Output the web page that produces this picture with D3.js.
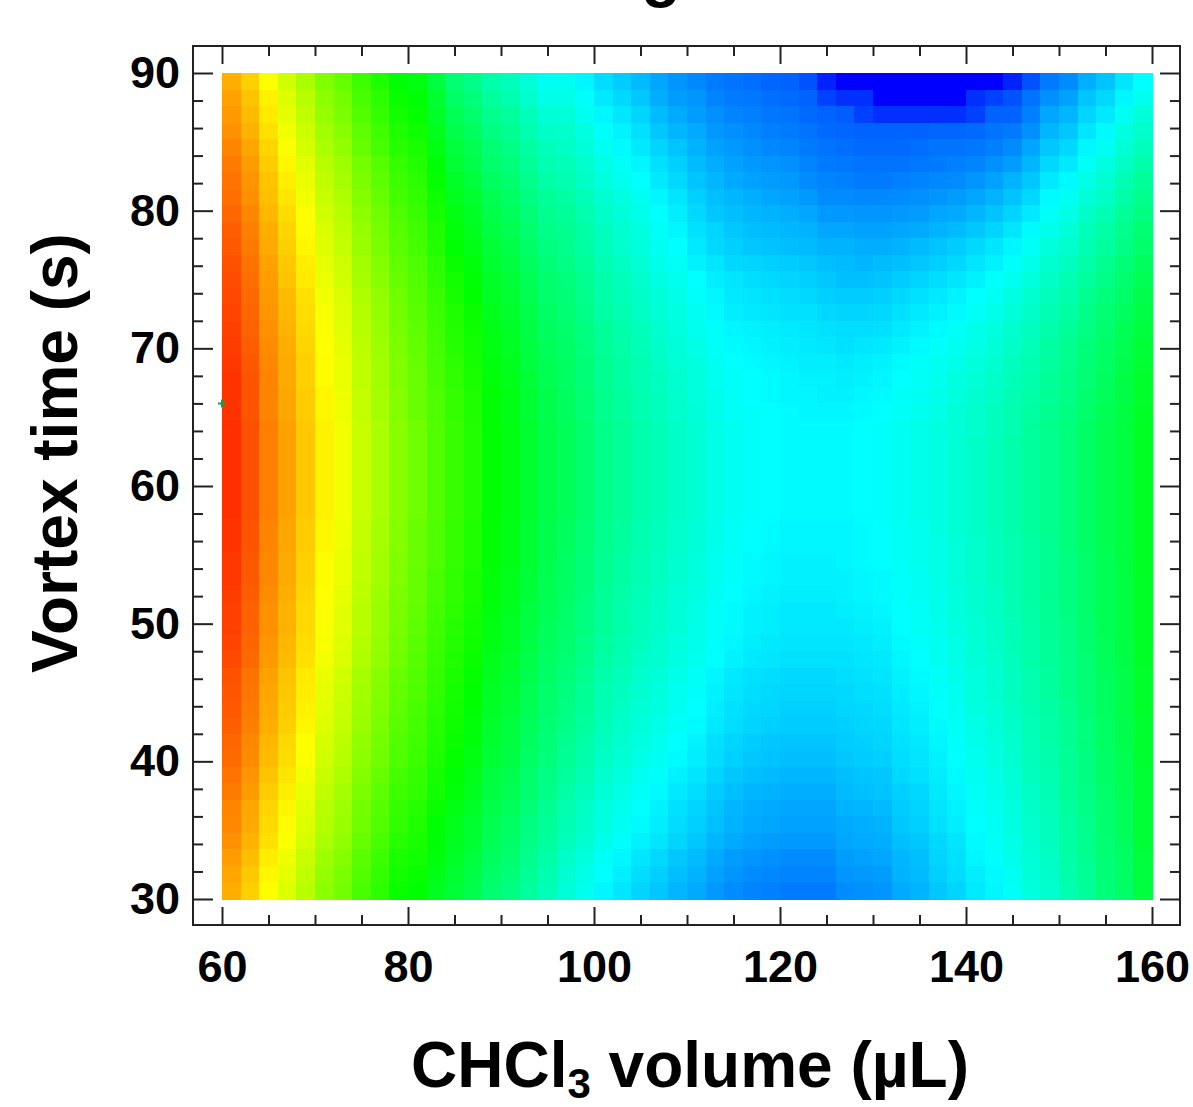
<!DOCTYPE html>
<html>
<head>
<meta charset="utf-8">
<script src="https://cdn.jsdelivr.net/npm/d3@7"></script>
<style>
  html, body { margin: 0; padding: 0; background: #fff; }
  svg { display: block; }
  text { font-family: Arial, "Liberation Sans", Helvetica, sans-serif; font-weight: bold; fill: #000; }
</style>
</head>
<body>
<svg id="chart" width="1193" height="1107"></svg>
<script>
// CHCl3 volume (µL) at the centre of each grid column
const volumes = [61, 63, 65, 67, 69, 71, 73, 75, 77, 79, 81, 83, 85, 87, 89, 91, 93, 95, 97, 99,
  101, 103, 105, 107, 109, 111, 113, 115, 117, 119, 121, 123, 125, 127, 129, 131, 133, 135, 137, 139,
  141, 143, 145, 147, 149, 151, 153, 155, 157, 159];

// Vortex time (s) at the centre of each grid row, top to bottom
const times = [89.4, 88.2, 87.0, 85.8, 84.6, 83.4, 82.2, 81.0, 79.8, 78.6, 77.4, 76.2, 75.0, 73.8, 72.6,
  71.4, 70.2, 69.0, 67.8, 66.6, 65.4, 64.2, 63.0, 61.8, 60.6, 59.4, 58.2, 57.0, 55.8, 54.6, 53.4, 52.2,
  51.0, 49.8, 48.6, 47.4, 46.2, 45.0, 43.8, 42.6, 41.4, 40.2, 39.0, 37.8, 36.6, 35.4, 34.2, 33.0, 31.8, 30.6];

// Response level of each cell, one array per volume column (rows follow `times`).
// 0 is the red end of the rainbow scale, 240 the blue end.
const zByVolume = [
  [41,38,36,34,31,29,27,26,24,22,21,19,18,17,16,15,14,13,12,12,12,11,11,11,11,11,11,12,12,13,13,14,15,15,16,17,19,20,21,22,24,25,27,29,31,32,34,37,39,41],
  [49,46,44,42,39,37,35,34,32,30,29,27,26,25,24,23,22,21,20,20,20,19,19,19,19,19,19,20,20,21,21,22,23,23,24,25,27,28,29,30,32,33,35,37,39,40,42,45,47,49],
  [60,57,55,53,50,48,46,45,43,41,40,38,37,36,35,34,33,32,31,31,31,30,30,30,30,30,30,31,31,32,32,33,34,34,35,36,38,39,40,41,43,44,46,48,50,51,53,56,58,60],
  [71,68,66,63,61,58,56,54,52,50,49,47,46,44,43,42,41,40,40,39,39,38,38,38,38,38,38,39,39,40,40,41,42,42,43,44,46,47,48,49,51,52,54,56,58,59,61,64,66,68],
  [80,77,75,72,70,67,65,63,61,59,58,56,55,53,52,51,50,49,49,48,48,47,47,47,47,47,47,48,48,49,49,50,51,51,52,53,55,56,57,58,60,61,63,65,67,68,70,73,75,77],
  [90,87,85,82,80,77,75,73,71,69,68,66,65,63,62,61,60,59,59,58,58,57,57,57,57,57,57,58,58,59,59,60,61,61,62,63,65,66,67,68,70,71,73,75,77,78,80,83,85,87],
  [96,93,91,88,86,83,81,79,77,75,74,72,71,69,68,67,66,65,65,64,64,63,63,63,63,63,63,64,64,65,65,66,67,67,68,69,71,72,73,74,76,77,79,81,83,84,86,89,91,93],
  [106,103,101,98,96,93,91,89,87,85,84,82,81,79,78,77,76,75,75,74,74,73,73,73,73,73,73,74,74,75,75,76,77,77,78,79,81,82,83,84,86,87,89,91,93,94,96,99,101,103],
  [113,110,108,105,103,100,98,96,94,92,91,89,88,86,85,84,83,82,82,81,81,80,80,80,80,80,80,81,81,82,82,83,84,84,85,86,88,89,90,91,93,94,96,98,100,101,103,106,108,110],
  [121,118,116,113,111,108,106,104,102,100,99,97,96,94,93,92,91,90,90,89,89,88,88,88,88,88,88,89,89,90,90,91,92,92,93,94,96,97,98,99,101,102,104,106,108,109,111,114,116,118],
  [124,121,119,117,114,112,110,109,107,105,104,102,101,100,99,98,97,96,95,95,95,94,94,94,94,94,94,95,95,95,96,96,97,98,99,100,101,102,103,104,105,106,108,109,111,113,114,116,118,120],
  [134,131,129,126,124,121,119,117,115,113,112,110,109,107,106,105,104,103,103,102,102,101,101,101,101,101,101,102,102,102,103,103,104,105,106,107,108,109,110,111,112,113,115,116,118,120,121,123,125,127],
  [147,144,140,137,134,132,129,126,124,122,120,118,116,115,113,112,111,110,109,108,108,107,107,107,107,107,107,108,108,108,109,109,110,111,112,113,114,115,116,117,118,119,121,122,124,126,127,129,131,133],
  [152,149,145,142,139,137,134,131,129,127,125,123,121,120,118,117,116,115,114,113,113,112,112,112,112,112,112,113,113,113,114,114,115,116,117,118,119,120,121,122,123,124,126,127,129,131,132,134,136,138],
  [160,157,153,150,147,145,142,139,137,135,133,131,129,128,126,125,124,123,122,121,121,120,120,120,120,120,120,121,121,121,122,122,123,124,125,126,127,128,129,130,131,132,134,135,137,139,140,142,144,146],
  [164,161,157,154,151,149,146,143,141,139,137,135,133,132,130,129,128,127,126,125,125,124,124,124,124,124,124,125,125,125,126,126,127,128,129,130,131,132,133,134,135,136,138,139,141,143,144,146,148,150],
  [171,168,164,161,158,156,153,150,148,146,144,142,140,139,137,136,135,134,133,132,132,131,131,131,131,131,131,132,132,132,133,133,134,135,136,137,138,139,140,141,142,143,145,146,148,150,151,153,155,157],
  [177,174,170,167,164,162,159,156,154,152,150,148,146,145,143,142,141,140,139,138,138,137,137,137,137,137,137,138,138,138,139,139,140,141,142,143,144,145,146,147,148,149,151,152,154,156,157,159,161,163],
  [177,174,171,168,166,163,161,158,156,154,153,151,149,148,147,145,144,143,143,142,142,141,141,141,141,141,141,142,142,143,143,144,145,145,146,147,149,150,151,152,154,155,157,159,161,162,164,167,169,171],
  [182,179,176,173,171,168,166,163,161,159,158,156,154,153,152,150,149,148,148,147,147,146,146,146,146,146,146,147,147,148,148,149,150,150,151,152,154,155,156,157,159,160,162,164,166,167,169,172,174,176],
  [188,185,182,179,177,174,172,169,167,165,164,162,160,159,158,156,155,154,154,153,153,152,152,152,152,152,152,153,153,154,154,155,156,156,157,158,160,161,162,163,165,166,168,170,172,173,175,178,180,182],
  [192,189,186,183,181,178,176,173,171,169,168,166,164,163,162,160,159,158,158,157,157,156,156,156,156,156,156,157,157,158,158,159,160,160,161,162,164,165,166,167,169,170,172,174,176,177,179,182,184,186],
  [196,193,190,187,185,182,180,177,175,173,172,170,168,167,166,164,163,162,162,161,161,160,160,160,160,160,160,161,161,162,162,163,164,164,165,166,168,169,170,171,173,174,176,178,180,181,183,186,188,190],
  [201,199,196,193,190,187,185,182,180,178,177,175,173,171,170,168,167,166,165,164,164,163,163,163,163,163,163,164,164,165,165,166,167,167,168,169,171,172,173,174,176,177,179,181,183,184,186,189,191,193],
  [205,203,200,197,194,191,189,186,184,182,180,178,176,174,173,172,171,170,169,168,168,167,167,167,167,167,167,168,168,169,169,170,171,171,172,173,175,176,177,178,180,181,183,185,187,188,190,193,195,197],
  [208,205,203,200,198,196,194,191,189,187,185,183,180,179,177,176,174,173,172,172,171,170,170,170,170,170,170,171,171,172,172,173,174,174,175,176,178,179,180,181,183,184,186,188,190,191,193,196,198,200],
  [211,209,206,204,202,199,197,195,193,190,189,186,184,182,181,179,178,177,176,175,175,174,174,174,174,174,174,175,175,176,176,177,178,178,179,180,182,183,184,185,187,188,190,192,194,195,197,200,202,204],
  [213,211,209,206,204,202,200,197,195,193,191,189,186,185,184,182,181,180,179,178,178,177,177,177,177,177,177,178,178,179,179,180,181,181,182,183,185,186,187,188,190,191,193,195,197,198,200,203,205,207],
  [214,212,210,208,206,204,202,199,197,195,193,190,188,186,185,183,182,181,180,180,179,179,179,179,179,179,179,180,180,181,181,182,183,183,184,185,187,188,189,190,192,193,195,197,199,200,202,205,207,209],
  [216,214,212,210,208,205,203,201,198,196,194,191,189,187,186,184,183,182,181,181,180,180,180,180,180,180,180,181,181,182,182,183,184,184,185,186,188,189,190,191,193,194,196,198,200,201,203,206,208,210],
  [217,215,213,211,209,206,204,202,199,197,195,192,190,188,187,185,184,183,182,182,181,181,181,181,181,181,181,182,182,183,183,184,185,185,186,187,189,190,191,192,194,195,197,199,201,202,204,207,209,211],
  [221,217,215,213,211,209,207,204,201,198,196,193,191,189,187,186,185,184,183,182,182,181,181,181,181,181,181,182,182,183,183,184,185,185,186,187,189,190,191,192,194,195,197,199,201,202,204,207,209,211],
  [232,225,217,215,213,211,209,207,204,201,198,195,193,191,189,187,186,184,183,183,182,181,181,181,181,181,181,182,182,183,183,184,185,185,186,187,189,190,191,192,194,195,197,199,201,202,204,207,209,211],
  [241,229,218,216,214,212,210,207,204,201,198,196,195,192,190,188,187,185,184,183,182,181,181,181,181,181,181,182,182,182,183,183,184,185,186,187,188,189,190,191,192,193,195,196,198,200,201,203,205,207],
  [242,229,225,217,215,213,211,208,205,202,199,197,195,192,190,188,186,184,183,182,181,180,180,180,180,180,180,181,181,181,182,182,183,184,185,186,187,188,189,190,191,192,194,195,197,199,200,202,204,206],
  [243,241,229,217,215,213,211,208,205,202,199,196,194,191,189,187,185,183,182,181,180,179,179,179,179,179,179,180,180,180,181,181,182,183,184,185,186,187,188,189,190,191,193,194,196,198,199,201,203,205],
  [243,241,229,217,215,213,210,207,204,201,198,195,192,189,187,185,183,181,180,179,178,177,177,177,177,177,177,178,178,178,179,179,180,180,181,182,183,184,185,186,187,188,189,191,192,193,195,197,198,200],
  [243,241,229,217,214,212,209,206,203,200,196,193,190,187,185,183,181,179,178,177,176,175,175,175,175,175,175,176,176,176,177,177,178,178,179,180,181,182,183,184,185,186,187,189,190,191,193,195,196,198],
  [242,241,229,216,213,211,208,205,201,198,194,191,188,185,183,181,179,177,176,175,174,173,173,173,173,173,173,173,174,174,174,175,175,176,177,177,178,179,180,181,182,183,184,185,186,187,189,190,191,193],
  [241,240,229,216,213,210,207,203,200,196,192,189,186,183,181,178,177,175,173,172,171,171,170,170,170,170,170,170,171,171,171,172,172,173,174,174,175,176,177,178,179,180,181,182,183,184,186,187,188,190],
  [241,229,225,215,212,209,205,201,197,193,189,186,183,180,178,175,174,172,170,169,168,168,167,167,167,167,167,167,168,168,168,169,169,170,170,171,172,172,173,174,175,176,177,178,179,180,181,182,184,185],
  [241,225,217,213,210,206,202,198,194,190,186,183,180,177,175,172,171,169,167,166,165,165,164,164,164,164,164,164,165,165,165,166,166,167,167,168,169,169,170,171,172,173,174,175,176,177,178,179,181,182],
  [232,221,217,211,207,203,198,194,190,186,182,179,176,173,171,168,167,165,163,162,161,161,160,160,160,160,160,160,161,161,161,162,162,163,163,164,165,165,166,167,168,169,170,171,172,173,174,175,177,178],
  [221,213,210,206,201,197,193,189,185,181,178,175,172,169,167,165,163,161,160,159,158,157,157,157,157,157,157,157,158,158,158,158,159,159,160,160,161,161,162,163,163,164,165,166,167,168,169,170,171,172],
  [211,206,201,197,193,189,185,181,178,175,172,169,166,164,162,160,158,157,156,155,154,153,153,153,153,153,153,153,154,154,154,154,155,155,156,156,157,157,158,159,159,160,161,162,163,164,165,166,167,168],
  [207,202,197,193,189,185,181,177,174,171,168,165,162,160,158,156,154,153,152,151,150,149,149,149,149,149,149,149,149,150,150,150,150,151,151,152,152,152,153,154,154,155,155,156,157,158,158,159,160,161],
  [199,194,190,186,182,178,174,171,167,164,162,159,157,154,152,151,149,148,147,146,145,144,144,144,144,144,144,144,144,145,145,145,145,146,146,147,147,147,148,149,149,150,150,151,152,153,153,154,155,156],
  [194,189,185,181,177,173,169,166,162,159,157,154,152,149,147,146,144,143,142,141,140,139,139,139,139,139,139,139,139,140,140,140,140,140,141,141,142,142,142,143,143,144,144,145,146,146,147,148,148,149],
  [186,182,177,173,170,166,162,159,156,153,151,148,146,144,142,140,139,138,136,136,135,134,134,134,134,134,134,134,134,135,135,135,135,135,136,136,137,137,137,138,138,139,139,140,141,141,142,143,143,144],
  [180,176,171,167,164,160,156,153,150,147,145,142,140,138,136,134,133,132,130,130,129,128,128,128,128,128,128,128,128,128,129,129,129,129,129,129,130,130,130,131,131,131,132,132,133,133,133,134,134,135]
];

const xMajorTicks = [60, 80, 100, 120, 140, 160];
const yMajorTicks = [30, 40, 50, 60, 70, 80, 90];
const optimum = { volume: 60, time: 66 };

const volumeStep = 2;   // width of one grid column, µL
const timeStep = 1.2;   // height of one grid row, s

const svg = d3.select("#chart");

const x = d3.scaleLinear().domain([60, 160]).range([222, 1152]);
const y = d3.scaleLinear().domain([30, 90]).range([899, 73]);

// rainbow: 0 → red, 120 → green, 240 → blue
const colour = d3.scaleLinear().domain([0, 240]).range([0, 240]).clamp(true);
const fillFor = z => d3.hsl(colour(z), 1, 0.5).formatHex();

const frame = { left: 193, right: 1180, top: 46, bottom: 925 };

// heat-map cells
const cells = [];
zByVolume.forEach((col, i) => {
  col.forEach((z, j) => cells.push({ v: volumes[i], t: times[j], z }));
});

svg.append("g")
  .attr("shape-rendering", "crispEdges")
  .selectAll("rect")
  .data(cells)
  .join("rect")
  .attr("x", d => x(d.v - volumeStep / 2))
  .attr("y", d => y(d.t + timeStep / 2))
  .attr("width", d => x(d.v + volumeStep / 2) - x(d.v - volumeStep / 2) + 0.5)
  .attr("height", d => y(d.t - timeStep / 2) - y(d.t + timeStep / 2) + 0.5)
  .attr("fill", d => fillFor(d.z));

// optimum marker
const ox = x(optimum.volume), oy = y(optimum.time);
svg.append("path")
  .attr("d", `M${ox - 4},${oy}H${ox + 4}M${ox},${oy - 4}V${oy + 4}`)
  .attr("stroke", "#1f9a3a")
  .attr("stroke-width", 2)
  .attr("fill", "none");

// frame
svg.append("rect")
  .attr("x", frame.left).attr("y", frame.top)
  .attr("width", frame.right - frame.left).attr("height", frame.bottom - frame.top)
  .attr("fill", "none").attr("stroke", "#222").attr("stroke-width", 2);

const xMinor = d3.range(60, 161, 5).filter(v => !xMajorTicks.includes(v));
const yMinor = d3.range(30, 91, 2).filter(v => !yMajorTicks.includes(v));

function styleAxis(g) {
  g.select(".domain").remove();
  g.selectAll(".tick line").attr("stroke", "#222").attr("stroke-width", 2);
  g.selectAll("text").attr("font-size", 45).attr("font-family", 'Arial, "Liberation Sans", sans-serif')
    .attr("font-weight", "bold").attr("fill", "#000");
}

// bottom
svg.append("g").attr("transform", `translate(0,${frame.bottom})`)
  .call(d3.axisBottom(x).tickValues(xMajorTicks).tickSize(-18).tickPadding(25).tickFormat(d3.format("d")))
  .call(styleAxis);
svg.append("g").attr("transform", `translate(0,${frame.bottom})`)
  .call(d3.axisBottom(x).tickValues(xMinor).tickSize(-10).tickFormat(""))
  .call(styleAxis);
// top
svg.append("g").attr("transform", `translate(0,${frame.top})`)
  .call(d3.axisTop(x).tickValues(xMajorTicks).tickSize(-18).tickFormat(""))
  .call(styleAxis);
svg.append("g").attr("transform", `translate(0,${frame.top})`)
  .call(d3.axisTop(x).tickValues(xMinor).tickSize(-10).tickFormat(""))
  .call(styleAxis);
// left
svg.append("g").attr("transform", `translate(${frame.left},0)`)
  .call(d3.axisLeft(y).tickValues(yMajorTicks).tickSize(-20).tickPadding(13).tickFormat(d3.format("d")))
  .call(styleAxis);
svg.append("g").attr("transform", `translate(${frame.left},0)`)
  .call(d3.axisLeft(y).tickValues(yMinor).tickSize(-10).tickFormat(""))
  .call(styleAxis);
// right
svg.append("g").attr("transform", `translate(${frame.right},0)`)
  .call(d3.axisRight(y).tickValues(yMajorTicks).tickSize(-20).tickFormat(""))
  .call(styleAxis);
svg.append("g").attr("transform", `translate(${frame.right},0)`)
  .call(d3.axisRight(y).tickValues(yMinor).tickSize(-10).tickFormat(""))
  .call(styleAxis);

// titles
svg.append("text")
  .attr("x", 638).attr("y", -5)
  .attr("text-anchor", "middle")
  .attr("font-size", 64)
  .text("Hg");

svg.append("text")
  .attr("transform", "translate(77,453) rotate(-90)")
  .attr("text-anchor", "middle")
  .attr("font-size", 64)
  .text("Vortex time (s)");

const xt = svg.append("text")
  .attr("x", 690).attr("y", 1087)
  .attr("text-anchor", "middle")
  .attr("font-size", 64);
xt.append("tspan").text("CHCl");
xt.append("tspan").attr("font-size", 42).attr("dy", 11).text("3");
xt.append("tspan").attr("dy", -11).text(" volume (µL)");
</script>
</body>
</html>
